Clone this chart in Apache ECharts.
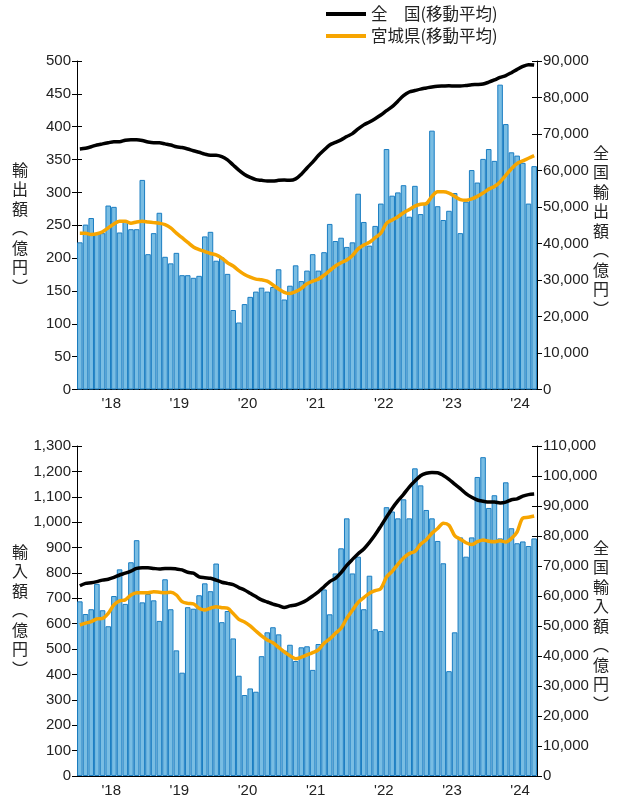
<!DOCTYPE html>
<html>
<head>
<meta charset="utf-8">
<script src="https://cdn.jsdelivr.net/npm/echarts@6/dist/echarts.min.js"></script>
<style>
  html, body { margin: 0; padding: 0; background: #fff; }
  #chart { width: 617px; height: 803px; }
</style>
</head>
<body>
<div id="chart"></div>
<script>
// 2018年1月〜2024年9月（月次）
var years = [2018, 2019, 2020, 2021, 2022, 2023, 2024];
var monthCount = 81;
var months = [];
years.forEach(function (y) {
  for (var m = 1; m <= 12; m++) {
    if (months.length < monthCount) months.push(y + '-' + (m < 10 ? '0' + m : m));
  }
});

// 宮城県 輸出額（億円）
var exportMiyagi = [
  224, 251, 261, 237, 238, 280, 278, 239, 255, 244, 244, 319,
  206, 238, 269, 202, 192, 208, 174, 174, 170, 173, 233, 240,
  196, 201, 176, 121, 102, 130, 141, 149, 155, 149, 156, 183,
  137, 158, 189, 165, 181, 206, 181, 209, 252, 226, 231, 217,
  224, 298, 255, 219, 249, 283, 366, 295, 300, 311, 263, 310,
  267, 283, 394, 279, 258, 272, 299, 238, 286, 334, 315, 351,
  366, 348, 464, 404, 361, 356, 345, 283, 340
];
var exportMiyagiMA = [
  238, 238, 236, 237, 240, 246, 252, 256, 256, 253, 255, 256,
  255, 254, 253, 251, 246, 238, 231, 224, 217, 213, 210, 207,
  205, 200, 193, 188, 181, 175, 171, 168, 167, 165, 159, 153,
  148, 146, 149, 154, 161, 165, 168, 174, 181, 188, 193, 197,
  204, 214, 220, 224, 231, 238, 253, 258, 263, 269, 274, 279,
  282, 283, 294, 301, 301, 299, 294, 289, 288, 290, 294, 299,
  305, 309, 316, 326, 336, 344, 348, 352, 356
];
// 全国 輸出額 移動平均（億円）
var exportNationalMA = [
  65900, 66100, 66500, 67000, 67300, 67600, 67900, 67900, 68300, 68400, 68400, 68200,
  67800, 67600, 67600, 67300, 67000, 66500, 66300, 65900, 65400, 65000, 64500, 64200,
  64200, 63800, 62900, 61500, 60100, 58900, 58100, 57500, 57300, 57100, 57100, 57300,
  57400, 57300, 57700, 59000, 60700, 62300, 64100, 65600, 67000, 67700, 68400, 69300,
  70100, 71400, 72500, 73300, 74200, 75200, 76400, 77500, 79000, 80500, 81500, 81900,
  82300, 82600, 82900, 83100, 83150, 83200, 83150, 83150, 83300, 83500, 83550, 83700,
  84200, 84800, 85500, 86000, 86800, 87700, 88500, 89000, 88900
];

// 宮城県 輸入額（億円）
var importMiyagi = [
  688, 638, 657, 757, 653, 590, 709, 814, 678, 842, 929, 684,
  717, 692, 611, 775, 657, 495, 407, 665, 659, 712, 759, 728,
  837, 606, 650, 542, 395, 319, 345, 332, 472, 566, 586, 558,
  494, 517, 453, 507, 511, 418, 520, 735, 637, 798, 897, 1015,
  798, 864, 657, 789, 578, 571, 1059, 1042, 1015, 1090, 1015, 1212,
  1145, 1048, 1015, 926, 838, 413, 566, 940, 864, 940, 1178, 1256,
  1056, 1106, 936, 1157, 976, 917, 924, 906, 936
];
var importMiyagiMA = [
  595, 602, 608, 619, 621, 641, 674, 690, 694, 713, 722, 722,
  722, 726, 724, 722, 724, 713, 687, 680, 678, 661, 654, 661,
  667, 663, 661, 640, 617, 607, 591, 571, 552, 536, 525, 507,
  489, 474, 462, 468, 477, 486, 497, 523, 540, 562, 582, 621,
  653, 684, 703, 720, 730, 738, 784, 806, 834, 859, 876, 885,
  913, 931, 956, 975, 996, 988, 947, 933, 919, 912, 923, 930,
  925, 923, 927, 922, 936, 962, 1016, 1019, 1024
];
// 全国 輸入額 移動平均（億円）
var importNationalMA = [
  63400, 64200, 64400, 64800, 65300, 65600, 66200, 67000, 67600, 68300, 69200, 69400,
  69400, 69200, 69000, 69200, 69200, 69000, 68700, 67900, 67600, 66400, 66100, 65900,
  65300, 64600, 64200, 63800, 62800, 62000, 60900, 59800, 58700, 58000, 57300, 56800,
  56200, 56700, 57000, 57700, 58700, 60000, 61400, 63100, 64800, 65900, 67800, 70200,
  72200, 74100, 75700, 77900, 80400, 83300, 86300, 89200, 91700, 93900, 96300, 98300,
  100100, 100900, 101200, 101100, 100200, 98900, 97300, 95800, 94100, 92900, 92000, 91600,
  91300, 91300, 91000, 91300, 92100, 92400, 93300, 93800, 94000
];

var nameNational = '全　国(移動平均)';
var nameMiyagi = '宮城県(移動平均)';

var FONT = '"Liberation Sans", "Noto Sans CJK JP", sans-serif';
var CJK = '"Noto Sans CJK JP", sans-serif';
var labelStyle = { fontSize: 15, color: '#222', fontFamily: FONT };

function fmt(v) { return v.toLocaleString('en-US'); }

function xAxisFor(gi) {
  return {
    type: 'category', gridIndex: gi, data: months, boundaryGap: true,
    axisLine: { lineStyle: { color: '#000', width: 1 } },
    axisTick: { interval: function (i) { return i % 12 === 0; }, length: 5, lineStyle: { color: '#000' } },
    axisLabel: Object.assign({
      interval: function (i) { return i % 12 === 5; },
      formatter: function (v) { return "'" + v.slice(2, 4); },
      padding: [0, 0, 0, 6], margin: 7
    }, labelStyle),
    splitLine: { show: false }
  };
}

function yAxisFor(gi, pos, max, step) {
  return {
    type: 'value', gridIndex: gi, position: pos, min: 0, max: max, interval: step,
    axisLine: { show: true, lineStyle: { color: '#000', width: 1 } },
    axisTick: { show: true, length: 5, lineStyle: { color: '#000' } },
    axisLabel: Object.assign({ formatter: fmt, margin: 6 }, labelStyle),
    splitLine: { show: false }
  };
}

// 内向きの目盛り（交差する目盛りの再現用）
function innerTicks(gi, pos, max, step) {
  return {
    type: 'value', gridIndex: gi, position: pos, min: 0, max: max, interval: step,
    axisLine: { show: false },
    axisTick: { show: true, inside: true, length: 5, lineStyle: { color: '#000' } },
    axisLabel: { show: false },
    splitLine: { show: false }
  };
}

var barStyle = { color: '#79bde3', borderColor: '#1a7dc2', borderWidth: 1 };

function barSeries(gi, yi, data) {
  return {
    type: 'bar', xAxisIndex: gi, yAxisIndex: yi, data: data,
    barCategoryGap: '2%', itemStyle: barStyle, z: 2, silent: true
  };
}
function lineSeries(name, gi, yi, data, color) {
  return {
    name: name, type: 'line', xAxisIndex: gi, yAxisIndex: yi, data: data,
    smooth: 0.3, showSymbol: false, symbol: 'none',
    lineStyle: { color: color, width: 3.5 }, itemStyle: { color: color }, z: 4
  };
}

function vText(str, x, y) {
  return {
    type: 'text', left: x, top: y,
    style: {
      text: str.split('').join('\n'), fill: '#222', font: '16px ' + CJK,
      lineHeight: 19.5, align: 'center'
    }
  };
}

var chart = echarts.init(document.getElementById('chart'), null, { renderer: 'canvas' });
chart.setOption({
  animation: false,
  backgroundColor: '#fff',
  legend: {
    orient: 'vertical', left: 321, top: 0,
    itemWidth: 40, itemHeight: 4, itemGap: 4, icon: 'rect',
    data: [nameNational, nameMiyagi],
    textStyle: { fontSize: 16.5, color: '#222', fontFamily: CJK, lineHeight: 18 }
  },
  grid: [
    { left: 77, right: 80, top: 61, height: 328.5 },
    { left: 77, right: 80, top: 446, height: 330 }
  ],
  xAxis: [xAxisFor(0), xAxisFor(1)],
  yAxis: [
    yAxisFor(0, 'left', 500, 50),
    yAxisFor(0, 'right', 90000, 10000),
    yAxisFor(1, 'left', 1300, 100),
    yAxisFor(1, 'right', 110000, 10000),
    innerTicks(0, 'left', 500, 50),
    innerTicks(0, 'right', 90000, 10000),
    innerTicks(1, 'left', 1300, 100),
    innerTicks(1, 'right', 110000, 10000)
  ],
  graphic: [
    vText('輸出額︵億円︶', 12, 160),
    vText('全国輸出額︵億円︶', 593, 143),
    vText('輸入額︵億円︶', 12, 542),
    vText('全国輸入額︵億円︶', 593, 538)
  ],
  series: [
    barSeries(0, 0, exportMiyagi),
    lineSeries(nameMiyagi, 0, 0, exportMiyagiMA, '#f7a500'),
    lineSeries(nameNational, 0, 1, exportNationalMA, '#000'),
    barSeries(1, 2, importMiyagi),
    lineSeries(nameMiyagi, 1, 2, importMiyagiMA, '#f7a500'),
    lineSeries(nameNational, 1, 3, importNationalMA, '#000')
  ]
});
</script>
</body>
</html>
